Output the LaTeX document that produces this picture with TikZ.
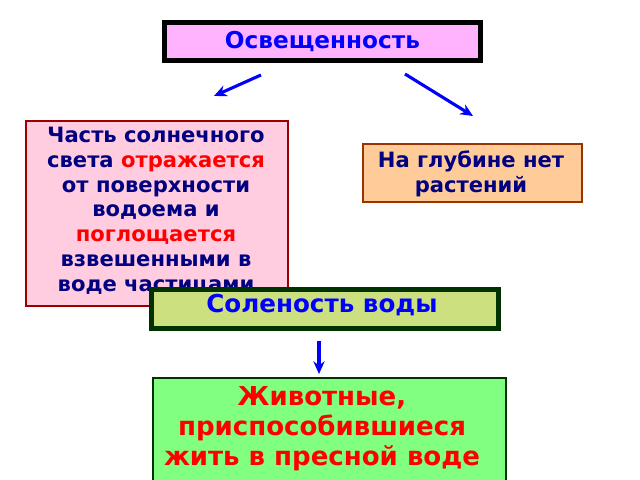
\documentclass[tikz,border=0pt]{standalone}
\usepackage{fontspec}
\setmainfont{DejaVu Sans}
\usetikzlibrary{arrows.meta}
\definecolor{dblue}{HTML}{000080}
\definecolor{tblue}{HTML}{0000FF}
\tikzset{
    box/.style={draw, anchor=north west, inner sep=0pt}, % общие рамки
    txt/.style={anchor=north, align=center, inner sep=0pt, font=\bfseries},
    arr/.style={-{Stealth[length=9pt,width=8pt]}, tblue, line width=2.2pt}
}
\begin{document}
\begin{tikzpicture}[x=0.025cm, y=-0.025cm]
    \useasboundingbox (0,0) rectangle (640,480);

    \node[box, fill={rgb,255:red,255;green,179;blue,255}, line width=3.5pt, minimum width=316*0.025cm, minimum height=38*0.025cm] (light) at (162,20) {};
    \node[txt, text=tblue, font=\bfseries\fontsize{16.5}{18}\selectfont, anchor=center] (lightt) at (light.center) {Освещенность};

    \node[box, fill={rgb,255:red,255;green,204;blue,224}, draw={rgb,255:red,153;green,0;blue,0}, line width=1.5pt, minimum width=262*0.025cm, minimum height=185*0.025cm] (part) at (25,120) {};
    \node[txt, text=dblue, font=\bfseries\fontsize{15}{17.6}\selectfont] (partt) at (156,127) {Часть солнечного\\света \textcolor{red}{отражается}\\от поверхности\\водоема и\\\textcolor{red}{поглощается}\\взвешенными в\\воде частицами};

    \node[box, fill={rgb,255:red,255;green,204;blue,153}, draw={rgb,255:red,153;green,51;blue,0}, line width=1.5pt, minimum width=219*0.025cm, minimum height=58*0.025cm] (deep) at (362,143) {};
    \node[txt, text=dblue, font=\bfseries\fontsize{15}{17.6}\selectfont] (deept) at (471,151) {На глубине нет\\растений};

    \node[box, fill={rgb,255:red,204;green,224;blue,127}, draw={rgb,255:red,0;green,51;blue,0}, line width=3.5pt, minimum width=347*0.025cm, minimum height=39*0.025cm] (salt) at (149,287) {};
    \node[txt, text=tblue, font=\bfseries\fontsize{17.5}{19}\selectfont] (saltt) at (322,294) {Соленость воды};

    \node[box, fill={rgb,255:red,128;green,255;blue,128}, draw={rgb,255:red,0;green,51;blue,0}, line width=1.5pt, minimum width=353*0.025cm, minimum height=110*0.025cm] (fresh) at (152,377) {};
    \node[txt, text=red, font=\bfseries\fontsize{18.5}{21.5}\selectfont] (fresht) at (322,386) {Животные,\\приспособившиеся\\жить в пресной воде};

    \coordinate (a1) at (261,75);
    \coordinate (a2) at (214,96);
    \coordinate (b1) at (405,74);
    \coordinate (b2) at (473,116);
    \coordinate (c1) at (319,341);
    \coordinate (c2) at (319,374);
    \draw[arr] (a1) -- (a2);
    \draw[arr] (b1) -- (b2);
    \draw[arr] (c1) -- (c2);
\end{tikzpicture}
\end{document}
